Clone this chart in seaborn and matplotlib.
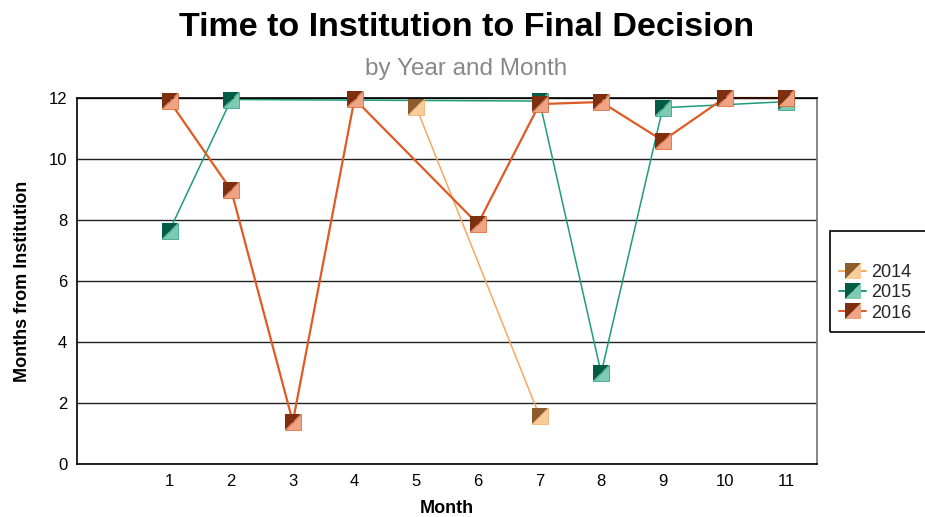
import numpy as np
import pandas as pd
import matplotlib
matplotlib.use("Agg")
import matplotlib.pyplot as plt
import seaborn as sns
from matplotlib.path import Path
from matplotlib.lines import Line2D
from matplotlib.patches import Rectangle
from matplotlib.legend_handler import HandlerTuple

# data (None = no value for that month)
months = [1, 2, 3, 4, 5, 6, 7, 8, 9, 10, 11]
years = ["2014", "2015", "2016"]
y2014 = [None, None, None, None, 11.7, None, 1.57, None, None, None, None]
y2015 = [7.65, 11.95, None, None, None, None, 11.9, 2.98, 11.68, None, 11.88]
y2016 = [11.9, 8.98, 1.38, 11.97, None, 7.87, 11.8, 11.87, 10.6, 12.0, 12.0]

line_colors = {"2014": "#f6a95e", "2015": "#1e9c7c", "2016": "#e05a24"}
dark_colors = {"2014": "#8c5c2c", "2015": "#005c45", "2016": "#7e2f10"}
light_colors = {"2014": "#f8cd9c", "2015": "#7fcbb2", "2016": "#f0a486"}

rows = []
for yr, vals in zip(years, [y2014, y2015, y2016]):
    for m, v in zip(months, vals):
        if v is not None:
            rows.append({"Month": m, "Value": v, "Year": yr})
df = pd.DataFrame(rows)

sns.set_theme(style="white")
plt.rcParams["font.family"] = ["Liberation Sans", "DejaVu Sans"]

fig = plt.figure(figsize=(9.25, 5.17), dpi=100)
ax = fig.add_axes([77 / 925, 1 - 464 / 517, (817 - 77) / 925, (464 - 98) / 517])

# half-square markers: dark upper-left, light lower-right
upper_left = Path([(-1, -1), (-1, 1), (1, 1), (-1, -1)],
                  [Path.MOVETO, Path.LINETO, Path.LINETO, Path.CLOSEPOLY])
lower_right = Path([(-1, -1), (1, -1), (1, 1), (-1, -1)],
                   [Path.MOVETO, Path.LINETO, Path.LINETO, Path.CLOSEPOLY])

for yr in years:
    sub = df[df["Year"] == yr]
    sns.lineplot(data=sub, x="Month", y="Value", color=line_colors[yr],
                 lw=1.6 if yr == "2016" else 1.1, ax=ax, legend=False,
                 clip_on=False, zorder=2)

for i, yr in enumerate(years):
    sub = df[df["Year"] == yr]
    sns.scatterplot(data=sub, x="Month", y="Value", marker=lower_right, s=135,
                    color=light_colors[yr], edgecolor=line_colors[yr], linewidth=0.5,
                    ax=ax, legend=False, clip_on=False, zorder=3 + i)
    sns.scatterplot(data=sub, x="Month", y="Value", marker=upper_left, s=135,
                    color=dark_colors[yr], linewidth=0,
                    ax=ax, legend=False, clip_on=False, zorder=3 + i)

ax.set_xlim(-0.5, 11.5)
ax.set_ylim(0, 12)
ax.set_xticks(months)
ax.set_xticklabels([str(m) for m in months])
ax.set_yticks(range(0, 13, 2))
ax.yaxis.grid(True, color="#222222", lw=1)
ax.set_axisbelow(True)
ax.tick_params(axis="both", labelsize=12, length=0, pad=7, colors="black")
for side in ["left", "bottom", "top"]:
    ax.spines[side].set_color("black")
    ax.spines[side].set_linewidth(1.2)
ax.spines["right"].set_color("#777777")
ax.set_xlabel("Month", fontsize=13, fontweight="bold", color="black", labelpad=8)
ax.set_ylabel("Months from Institution", fontsize=13, fontweight="bold",
              color="black", labelpad=13)

fig.text(467 / 925, 1 - 28 / 517, "Time to Institution to Final Decision", ha="center",
         va="center", fontsize=24.5, fontweight="bold", color="black")
fig.text(466 / 925, 1 - 69 / 517, "by Year and Month", ha="center", va="center",
         fontsize=17.5, color="#888888")

# legend box
fig.patches.append(Rectangle((830 / 925, 1 - 332 / 517), 0.2, 101 / 517,
                             transform=fig.transFigure, fill=False,
                             edgecolor="black", lw=1.2))
handles = []
for yr in years:
    ln = Line2D([], [], color=line_colors[yr], lw=1.4)
    lo = Line2D([], [], marker=lower_right, markersize=11.5, linestyle="none",
                markerfacecolor=light_colors[yr], markeredgewidth=0)
    up = Line2D([], [], marker=upper_left, markersize=11.5, linestyle="none",
                markerfacecolor=dark_colors[yr], markeredgewidth=0)
    handles.append((ln, lo, up))
fig.legend(handles, years, handler_map={tuple: HandlerTuple(ndivide=1, pad=0)},
           loc="upper left", bbox_to_anchor=(830 / 925, 1 - 255 / 517),
           frameon=False, fontsize=13, handlelength=1.5, handletextpad=0.3,
           labelspacing=0.18, borderpad=0)

fig.savefig("out.png", dpi=100)
